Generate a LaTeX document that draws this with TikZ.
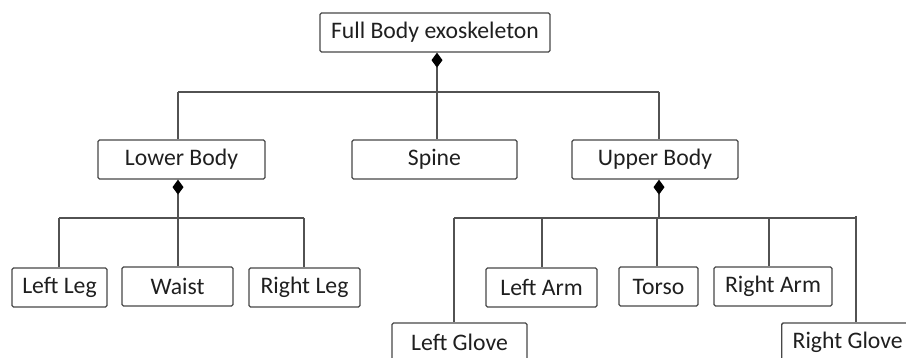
\documentclass[tikz,border=0pt]{standalone}
\usepackage{fontspec}
\setmainfont{Carlito}
\usetikzlibrary{arrows.meta}
\begin{document}
\begin{tikzpicture}[x=1pt,y=-1pt,
  box/.style={draw=black!72,line width=1.3pt,rounded corners=1.5pt,minimum height=39pt,inner sep=0pt,
    font=\fontsize{23.7}{27}\selectfont,text=black!88},
  conn/.style={draw=black!68,line width=1.3pt},
  comp/.style={conn,{Diamond[length=15pt,width=11pt,black]}-}]
\useasboundingbox (0,0) rectangle (906,358);
\clip (0,0) rectangle (906,358);
% nodes
\node[box,minimum width=230pt] (full) at (435,32.5) {Full Body exoskeleton};
\node[box,minimum width=167pt] (lower) at (181.5,159.5) {Lower Body};
\node[box,minimum width=165pt] (spine) at (434.5,159.5) {Spine};
\node[box,minimum width=166pt] (upper) at (655,159.5) {Upper Body};
\node[box,minimum width=95pt] (lleg) at (59.5,287.5) {Left Leg};
\node[box,minimum width=111pt] (waist) at (177.5,286.5) {Waist};
\node[box,minimum width=111pt] (rleg) at (304.5,287.5) {Right Leg};
\node[box,minimum width=111pt] (larm) at (541.5,287.5) {Left Arm};
\node[box,minimum width=79pt] (torso) at (658.5,286.5) {Torso};
\node[box,minimum width=118pt] (rarm) at (773,286.5) {Right Arm};
\node[box,minimum width=135pt] (lglove) at (459.5,342.5) {Left Glove};
\node[box,anchor=west,inner xsep=11pt] (rglove) at (781,342.5) {\makebox[125pt][l]{Right Glove}};
% bus coordinates
\coordinate (t0) at (437,92);
\coordinate (tl) at (178,92);
\coordinate (tr) at (659,92);
\coordinate (l0) at (178,218);
\coordinate (ll) at (59,218);
\coordinate (lr) at (304,218);
\coordinate (u0) at (659,218);
\coordinate (ul) at (454,218);
\coordinate (ua) at (542,218);
\coordinate (ut) at (657,218);
\coordinate (ur) at (769,218);
\coordinate (ug) at (856,218);
% top level
\draw[comp] (full.south -| t0) -- (t0);
\draw[conn] (tl) -- (tr);
\draw[conn] (tl) -- (lower.north -| tl);
\draw[conn] (t0) -- (spine.north -| t0);
\draw[conn] (tr) -- (upper.north -| tr);
% lower body
\draw[comp] (lower.south -| l0) -- (l0);
\draw[conn] (ll) -- (lr);
\draw[conn] (ll) -- (lleg.north -| ll);
\draw[conn] (l0) -- (waist.north -| l0);
\draw[conn] (lr) -- (rleg.north -| lr);
% upper body
\draw[comp] (upper.south -| u0) -- (u0);
\draw[conn] (ul) -- (ug);
\draw[conn] (ul) -- (lglove.north -| ul);
\draw[conn] (ua) -- (larm.north -| ua);
\draw[conn] (ut) -- (torso.north -| ut);
\draw[conn] (ur) -- (rarm.north -| ur);
\draw[conn] ([yshift=2pt]ug) -- (rglove.north -| ug);
\end{tikzpicture}
\end{document}
